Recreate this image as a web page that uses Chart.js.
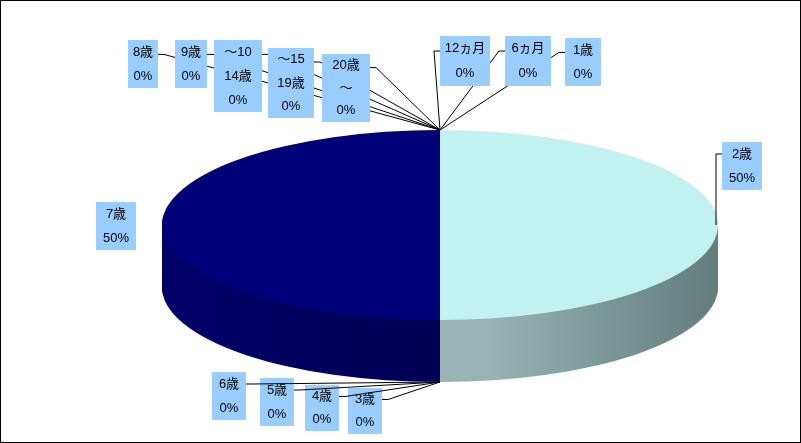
<!DOCTYPE html>
<html><head><meta charset="utf-8">
<script src="https://cdn.jsdelivr.net/npm/chart.js@4/dist/chart.umd.min.js"></script>
<style>body{margin:0;background:#fff}canvas{display:block}</style>
</head><body>
<canvas id="c" width="801" height="443"></canvas>
<script>
const categories = ['1歳','6ヵ月','12ヵ月','2歳','3歳','4歳','5歳','6歳','7歳','8歳','9歳','〜10 14歳','〜15 19歳','20歳〜'];
const values = [0,0,0,1,0,0,0,0,1,0,0,0,0,0];
const percentLabels = ['0%','0%','0%','50%','0%','0%','0%','0%','50%','0%','0%','0%','0%','0%'];
const labelLines = [['1歳'],['6ヵ月'],['12ヵ月'],['2歳'],['3歳'],['4歳'],['5歳'],['6歳'],['7歳'],['8歳'],['9歳'],['〜10','14歳'],['〜15','19歳'],['20歳','〜']];
const topColors = ['#ccc','#ccc','#ccc','#C2F2F0','#ccc','#ccc','#ccc','#ccc','#000078','#ccc','#ccc','#ccc','#ccc','#ccc'];

const CX=440, CY=225, RX=278, RY=95, DEPTH=62;
// label box layout: x,y,w,h, leader target: 't' top, 'b' bottom, 'r' right
const boxes = [
 [565,38,36,48,'t'],[505,36,46,50,'t'],[440,36,50,50,'t'],[722,142,40,48,'r'],
 [348,388,34,46,'b'],[305,385,34,46,'b'],[260,378,34,48,'b'],[212,372,34,48,'b'],
 [96,202,40,48,null],[128,40,30,48,'t'],[175,40,32,48,'t'],[214,40,48,72,'t'],
 [268,48,46,70,'t'],[322,54,48,68,'t']
];
function ell(ctx, a){
  const m=a.chart.getDatasetMeta(0).data[0];
  const r=m.outerRadius, x=m.x, y=m.y;
  ctx.translate(CX,CY); ctx.scale(RX/r, RY/r); ctx.translate(-x,-y);
}
const pie3d={
  id:'pie3d',
  beforeDatasetsDraw(chart){
    const ctx=chart.ctx, arcs=chart.getDatasetMeta(0).data;
    const grad=ctx.createLinearGradient(CX,0,CX+RX,0);
    grad.addColorStop(0,'#98B4B2');grad.addColorStop(0.5,'#6E8A88');grad.addColorStop(1,'#4A605E');
    const gradL=ctx.createLinearGradient(CX-RX,0,CX,0);
    gradL.addColorStop(0,'#00006A');gradL.addColorStop(1,'#000050');
    for(let d=DEPTH; d>0; d--){
      ctx.save(); ctx.translate(0,d); ell(ctx,{chart});
      arcs.forEach((el,i)=>{
        if(!values[i])return;
        const o=el.options, bg=o.backgroundColor, bw=o.borderWidth;
        o.backgroundColor = i===3?grad:gradL; o.borderWidth=0;
        el.draw(ctx);
        o.backgroundColor=bg; o.borderWidth=bw;
      });
      ctx.restore();
    }
    ctx.save(); ell(ctx,{chart});
  },
  afterDatasetsDraw(chart){
    chart.ctx.restore();
    const ctx=chart.ctx;
    ctx.strokeStyle='#000';ctx.lineWidth=1;
    ctx.font='13px "Liberation Sans","Noto Sans CJK JP",sans-serif';
    ctx.textAlign='center';ctx.textBaseline='middle';
    boxes.forEach((b,i)=>{
      const [x,y,w,h,t]=b;
      ctx.fillStyle='#99CCFF';ctx.fillRect(x,y,w,h);
      const lines=labelLines[i].concat([percentLabels[i]]);
      const lh=h/lines.length;
      ctx.fillStyle='#000';
      lines.forEach((s,k)=>ctx.fillText(s,x+w/2,y+lh*(k+0.5)));
      if(!t)return;
      ctx.beginPath();
      if(t==='t'){
        if(x<CX){ctx.moveTo(x+w,y+lh*0.6);ctx.lineTo(x+w+6,y+lh*0.6);}
        else{ctx.moveTo(x,y+lh*0.6);ctx.lineTo(x-6,y+lh*0.6);}
        ctx.lineTo(CX,CY-RY);
      }else if(t==='b'){
        ctx.moveTo(x+w,y+lh*0.5);ctx.lineTo(x+w+6,y+lh*0.5);ctx.lineTo(CX,CY+RY+DEPTH);
      }else{
        ctx.moveTo(x,y+lh*0.5);ctx.lineTo(x-6,y+lh*0.5);ctx.lineTo(x-6,CY);
      }
      ctx.stroke();
    });
    ctx.strokeRect(0.5,0.5,800,442);
  }
};
new Chart(document.getElementById('c'),{
  type:'pie',
  data:{labels:categories,datasets:[{data:values,backgroundColor:topColors,borderWidth:0}]},
  options:{responsive:false,animation:false,rotation:0,
    plugins:{legend:{display:false},tooltip:{enabled:false}}},
  plugins:[pie3d]
});
</script>
</body></html>
